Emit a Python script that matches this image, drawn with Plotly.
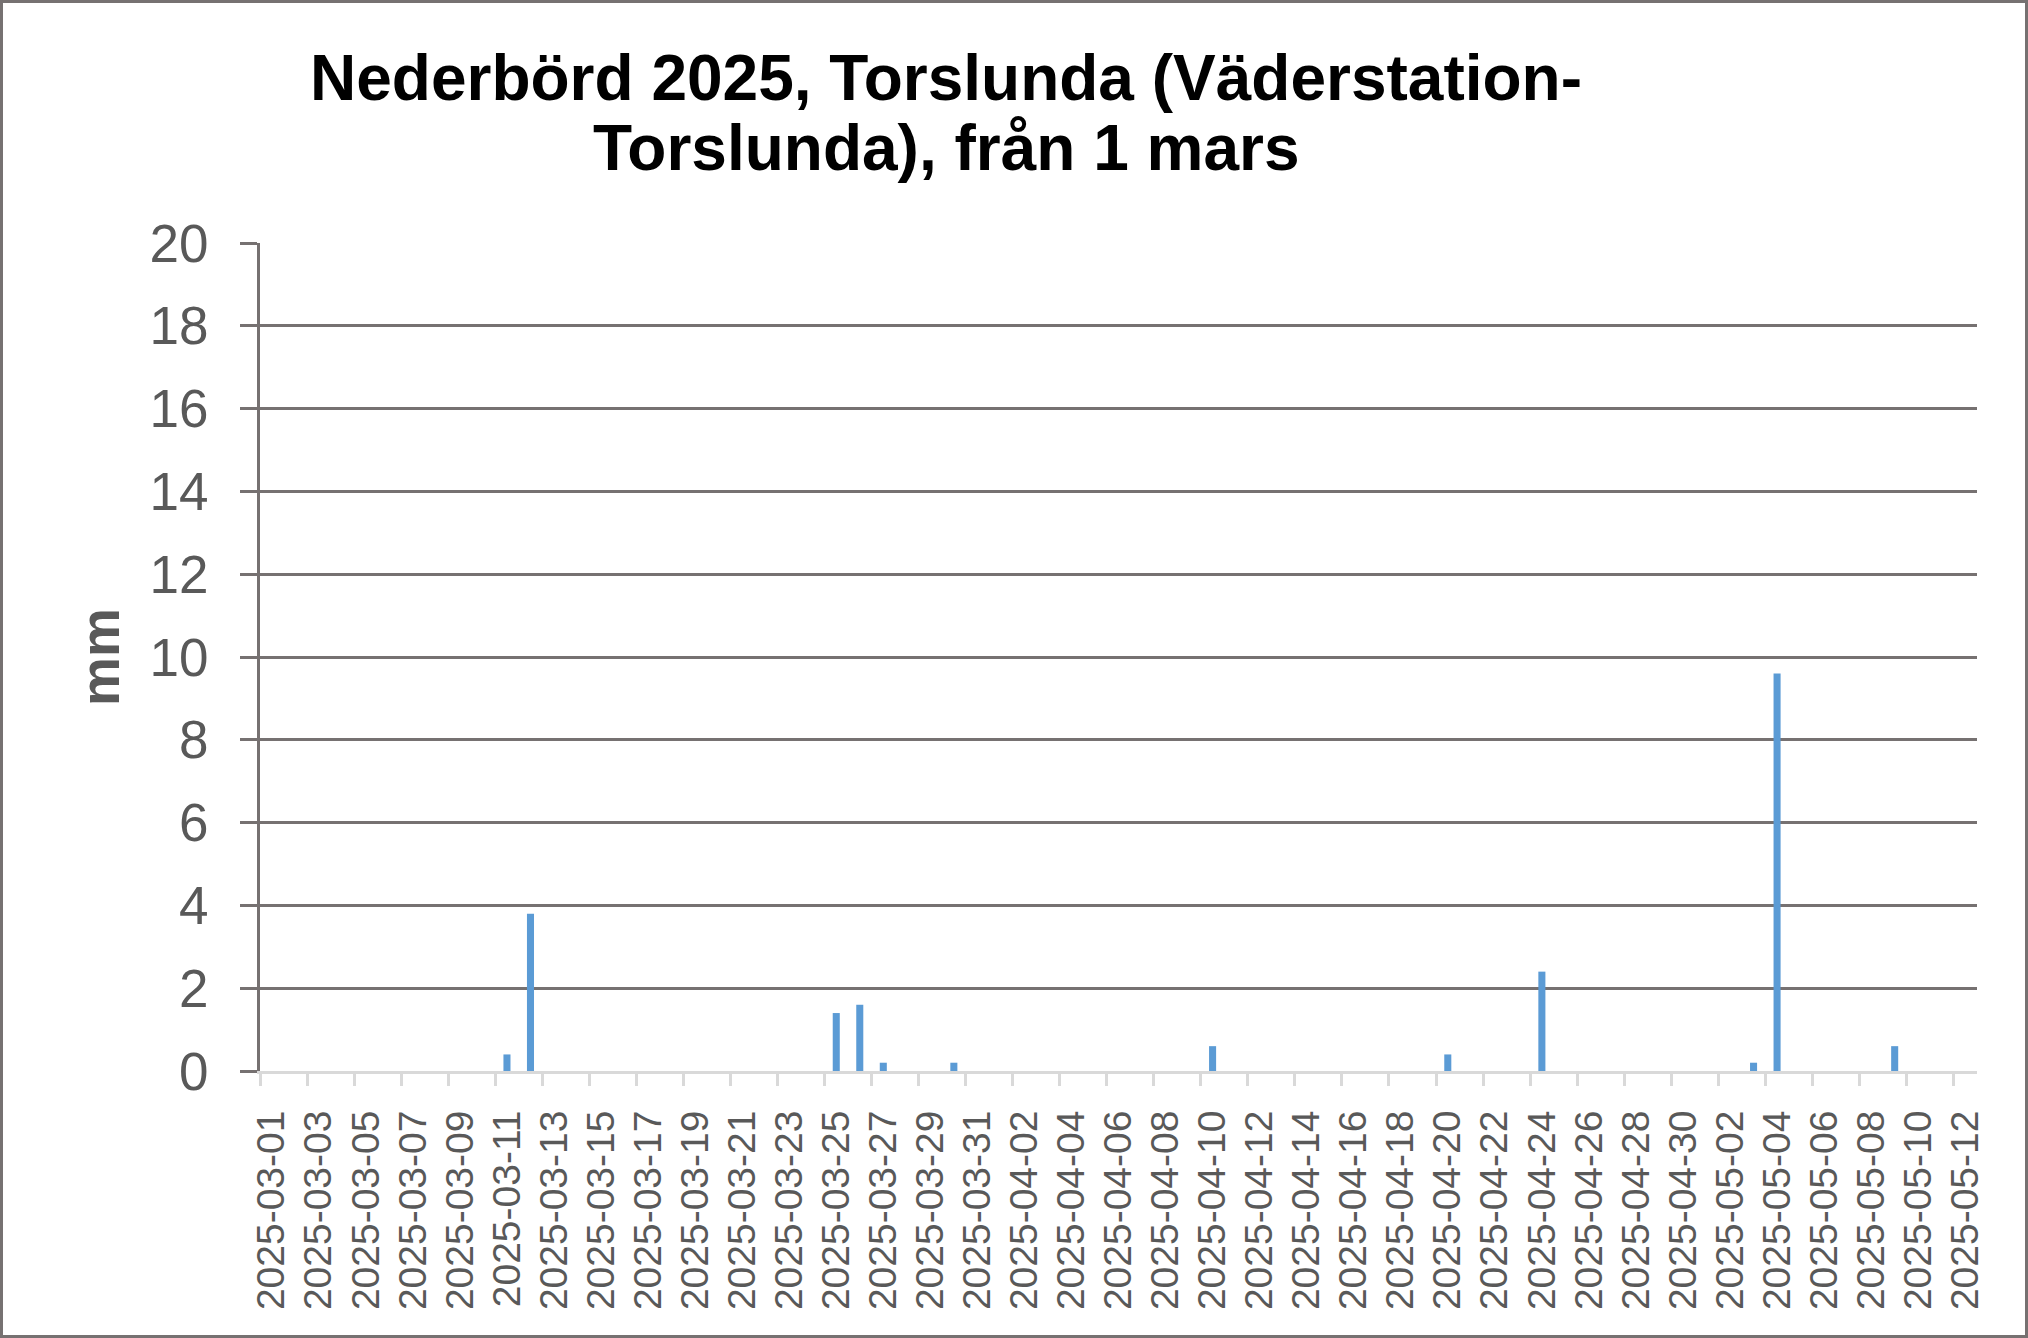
import pandas as pd
import plotly.graph_objects as go

# dagar 2025-03-01 .. 2025-05-12
datum = pd.date_range("2025-03-01", "2025-05-12").strftime("%Y-%m-%d").tolist()

# nederbörd per dag (mm)
regn_mars = [0, 0, 0, 0, 0, 0, 0, 0, 0, 0,
             0.4, 3.8,
             0, 0, 0, 0, 0, 0, 0, 0, 0, 0, 0, 0,
             1.4, 1.6, 0.2, 0, 0, 0.2, 0]
regn_april = [0, 0, 0, 0, 0, 0, 0, 0, 0,
              0.6,
              0, 0, 0, 0, 0, 0, 0, 0, 0,
              0.4,
              0, 0, 0,
              2.4,
              0, 0, 0, 0, 0, 0]
regn_maj = [0, 0, 0.2, 9.6, 0, 0, 0, 0, 0.6, 0, 0, 0]
regn = regn_mars + regn_april + regn_maj

titel_rader = ["Nederbörd 2025, Torslunda (Väderstation-", "Torslunda), från 1 mars"]

W, H = 2028, 1338
ml, mr, mt, mb = 260, 51, 243, 267
pw = W - ml - mr
ph = H - mt - mb

grid_col = "#767171"
text_col = "#595959"
font = "Liberation Sans, Arial, sans-serif"

fig = go.Figure(go.Bar(x=datum, y=regn, width=0.3, marker=dict(color="#5B9BD5", line=dict(width=0))))

fig.update_layout(
    width=W, height=H,
    margin=dict(l=ml, r=mr, t=mt, b=mb),
    paper_bgcolor="white", plot_bgcolor="white",
    showlegend=False,
    font=dict(family=font, color=text_col),
)

# titeln, två rader
for i, rad in enumerate(titel_rader):
    fig.add_annotation(text="<b>" + rad + "</b>", xref="paper", yref="paper",
                       x=(946 - ml) / pw, y=1 + (mt - 78 - i * 70) / ph,
                       xanchor="center", yanchor="middle", showarrow=False,
                       font=dict(family=font, size=64, color="black"))

fig.update_xaxes(
    type="category", range=[-0.5, len(datum) - 0.5],
    tickmode="linear", tick0=0, dtick=2, tickson="boundaries",
    tickangle=-90, tickfont=dict(size=39, color=text_col),
    ticks="outside", ticklen=12, tickwidth=3, tickcolor="#D9D9D9",
    showline=True, linecolor="#D9D9D9", linewidth=3,
    showgrid=False, ticklabelstandoff=21,
)

fig.update_yaxes(
    range=[0, 20], dtick=2,
    tickfont=dict(size=53, color=text_col),
    ticks="outside", ticklen=17, tickwidth=3, tickcolor=grid_col,
    showline=True, linecolor=grid_col, linewidth=3,
    showgrid=True, gridcolor=grid_col, gridwidth=3,
    zeroline=False, ticklabelstandoff=21,
    title=dict(text="<b>mm</b>", font=dict(family=font, size=55, color=text_col), standoff=13),
)

# ram runt hela diagrammet
fig.add_shape(type="rect", xref="paper", yref="paper",
              x0=(-ml + 1.5) / pw, x1=1 + (mr - 1.5) / pw,
              y0=(-mb + 1.5) / ph, y1=1 + (mt - 1.5) / ph,
              line=dict(color=grid_col, width=3), layer="below")

fig.write_html("out.html", config={"displayModeBar": False},
               post_script="document.body.style.margin='0px';")
